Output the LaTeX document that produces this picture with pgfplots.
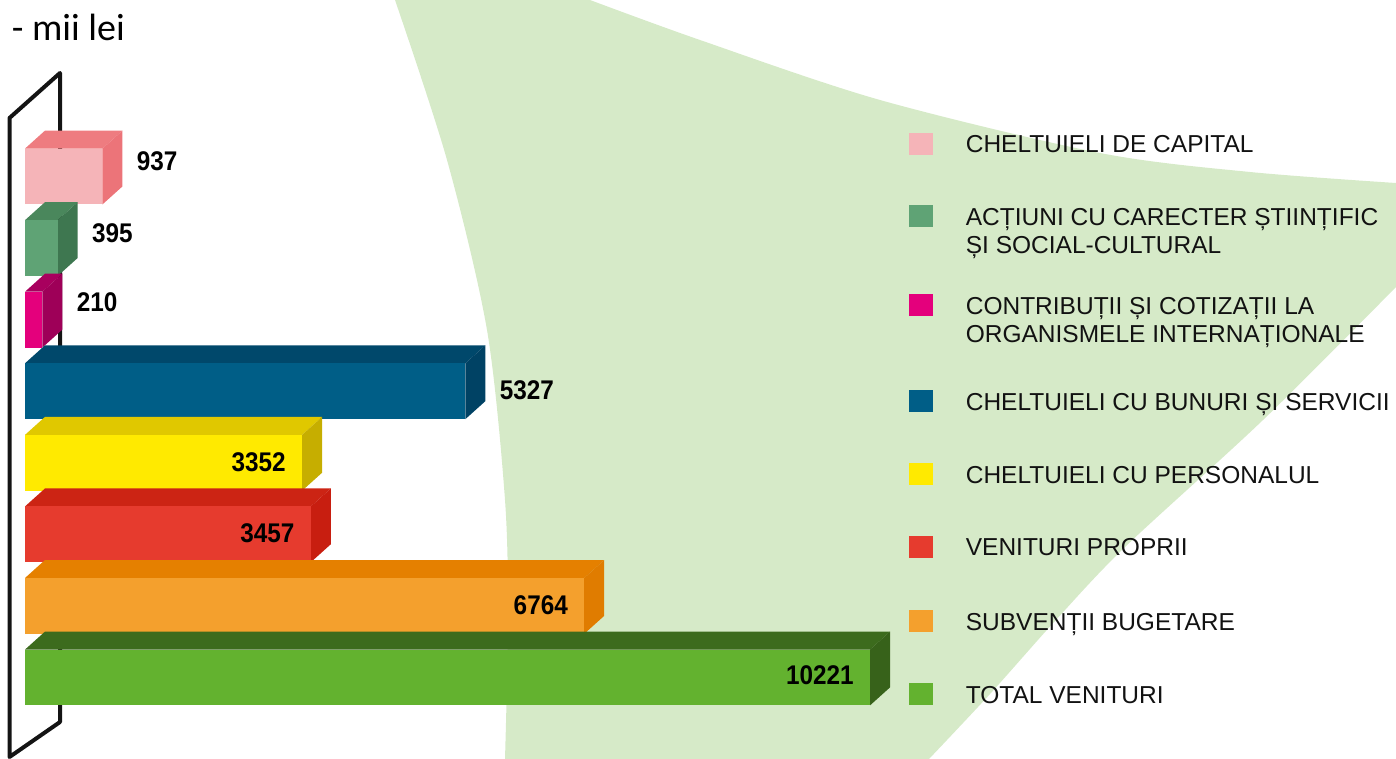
\documentclass[border=0pt]{standalone}
\usepackage{fontspec}
\setmainfont{Liberation Sans}
\newfontfamily\numfont{Liberation Sans}[FakeStretch=0.9]
\newfontfamily\carlito{Carlito}
\usepackage{pgfplots}
\pgfplotsset{compat=1.18}

\definecolor{bggreen}{RGB}{214,234,200}
% front / top / side colours
\definecolor{capF}{HTML}{F5B4B8}\definecolor{capT}{HTML}{EE7C80}\definecolor{capS}{HTML}{EC7479}
\definecolor{actF}{HTML}{5FA375}\definecolor{actT}{HTML}{4A875C}\definecolor{actS}{HTML}{3E7750}
\definecolor{conF}{HTML}{E4007C}\definecolor{conT}{HTML}{A8005E}\definecolor{conS}{HTML}{9E0058}
\definecolor{bunF}{HTML}{005E87}\definecolor{bunT}{HTML}{00486B}\definecolor{bunS}{HTML}{004264}
\definecolor{perF}{HTML}{FFEA00}\definecolor{perT}{HTML}{E0C800}\definecolor{perS}{HTML}{C6AE00}
\definecolor{venF}{HTML}{E63B2E}\definecolor{venT}{HTML}{CC2414}\definecolor{venS}{HTML}{C81E10}
\definecolor{subF}{HTML}{F4A02D}\definecolor{subT}{HTML}{E58000}\definecolor{subS}{HTML}{E07C00}
\definecolor{totF}{HTML}{63B22F}\definecolor{totT}{HTML}{3C6B1D}\definecolor{totS}{HTML}{37621A}

\pgfplotsset{
  fb/.style={xbar, bar width=0.78, bar shift=0pt, draw=none, fill=#1, forget plot,
    point meta=x, nodes near coords},
  face/.style={fill=#1, draw=none, forget plot},
  outlbl/.style={nodes near coords style={anchor=west, xshift=17pt, yshift=#1, inner sep=0pt,
    font=\numfont\bfseries\fontsize{13.5}{15}\selectfont}},
  inlbl/.style={nodes near coords style={anchor=east, xshift=-8pt, yshift=#1, inner sep=0pt,
    font=\numfont\bfseries\fontsize{13.5}{15}\selectfont}},
  legsq/.style 2 args={legend image code/.code={%
    \fill[#1] (0pt,-0.5pt) rectangle (11.5pt,10pt);
    \path (0pt,-#2) (28pt,10pt);}},
}
\newcommand\LE[1]{\smash{\begin{tabular}[t]{@{}l@{}}#1\end{tabular}}}

\begin{document}
\begin{tikzpicture}
% ---------- background decoration (pixel coordinates) ----------
\begin{axis}[at={(0,0)}, anchor=south west, scale only axis,
  width=698pt, height=379.5pt,
  xmin=0, xmax=1396, ymin=0, ymax=759, y dir=reverse, hide axis, clip=false]
\fill[bggreen] plot[smooth] coordinates {(590,0) (700,40) (880,100) (1100,153) (1250,172) (1396,183)}
  -- plot[smooth] coordinates {(1396,287) (1263,420) (1125,547) (1055,621) (990,694) (929,759)}
  -- (505,759)
  -- plot[smooth] coordinates {(505,759) (508,620) (505,500) (487,330) (447,160) (395,0)} -- cycle;
\draw[line width=2pt, line join=round, black!92] (9.5,118) -- (60,73) -- (60,722) -- (9.5,757) -- cycle;
\node[anchor=base west, inner sep=0pt, font=\carlito\fontsize{19}{21}\selectfont] at (11.5,40.7) {- mii lei};
\end{axis}

% ---------- data axis ----------
\begin{axis}[at={(0,0)}, anchor=south west, scale only axis,
  width=698pt, height=379.5pt,
  xmin=-302.4, xmax=16583.6, ymin=-1.1387, ymax=9.4663, hide axis, clip=false,
  /pgf/number format/assume math mode=true,
  /pgf/number format/1000 sep={},
  legend style={at={(0.65115,0.82530)}, anchor=north west, draw=none, fill=none,
    inner sep=0pt, outer sep=0pt, row sep=0pt, column sep=0pt,
    nodes={inner sep=0pt, outer sep=0pt}, cells={anchor=base west},
    font=\fontsize{12.25}{14}\selectfont, text=black!93},
]
% bar 7 : 937
\addplot[face=capT] coordinates {(0,7.39) (242,7.6415) (1179,7.6415) (937,7.39)};
\addplot[face=capS] coordinates {(937,7.39) (1179,7.6415) (1179,6.8615) (937,6.61)};
\addplot[fb=capF, outlbl=7.75pt] coordinates {(937,7)};
% bar 6 : 395
\addplot[face=actT] coordinates {(0,6.39) (242,6.6415) (637,6.6415) (395,6.39)};
\addplot[face=actS] coordinates {(395,6.39) (637,6.6415) (637,5.8615) (395,5.61)};
\addplot[fb=actF, outlbl=7.5pt] coordinates {(395,6)};
% bar 5 : 210
\addplot[face=conT] coordinates {(0,5.39) (242,5.6415) (452,5.6415) (210,5.39)};
\addplot[face=conS] coordinates {(210,5.39) (452,5.6415) (452,4.8615) (210,4.61)};
\addplot[fb=conF, outlbl=8.5pt] coordinates {(210,5)};
% bar 4 : 5327
\addplot[face=bunT] coordinates {(0,4.39) (242,4.6415) (5569,4.6415) (5327,4.39)};
\addplot[face=bunS] coordinates {(5327,4.39) (5569,4.6415) (5569,3.8615) (5327,3.61)};
\addplot[fb=bunF, outlbl=0.5pt] coordinates {(5327,4)};
% bar 3 : 3352
\addplot[face=perT] coordinates {(0,3.39) (242,3.6415) (3594,3.6415) (3352,3.39)};
\addplot[face=perS] coordinates {(3352,3.39) (3594,3.6415) (3594,2.8615) (3352,2.61)};
\addplot[fb=perF, inlbl=0.5pt] coordinates {(3352,3)};
% bar 2 : 3457
\addplot[face=venT] coordinates {(0,2.39) (242,2.6415) (3699,2.6415) (3457,2.39)};
\addplot[face=venS] coordinates {(3457,2.39) (3699,2.6415) (3699,1.8615) (3457,1.61)};
\addplot[fb=venF, inlbl=0.5pt] coordinates {(3457,2)};
% bar 1 : 6764
\addplot[face=subT] coordinates {(0,1.39) (242,1.6415) (7006,1.6415) (6764,1.39)};
\addplot[face=subS] coordinates {(6764,1.39) (7006,1.6415) (7006,0.8615) (6764,0.61)};
\addplot[fb=subF, inlbl=0.5pt] coordinates {(6764,1)};
% bar 0 : 10221
\addplot[face=totT] coordinates {(0,0.39) (242,0.6415) (10463,0.6415) (10221,0.39)};
\addplot[face=totS] coordinates {(10221,0.39) (10463,0.6415) (10463,-0.1385) (10221,-0.39)};
\addplot[fb=totF, inlbl=1.25pt] coordinates {(10221,0)};

% legend
\addlegendimage{legsq={capF}{26pt}}
\addlegendentry{\LE{CHELTUIELI DE CAPITAL}}
\addlegendimage{legsq={actF}{34pt}}
\addlegendentry{\LE{ACȚIUNI CU CARECTER ȘTIINȚIFIC\\ȘI SOCIAL-CULTURAL}}
\addlegendimage{legsq={conF}{37.5pt}}
\addlegendentry{\LE{CONTRIBUȚII ȘI COTIZAȚII LA\\ORGANISMELE INTERNAȚIONALE}}
\addlegendimage{legsq={bunF}{26pt}}
\addlegendentry{\LE{CHELTUIELI CU BUNURI ȘI SERVICII}}
\addlegendimage{legsq={perF}{26pt}}
\addlegendentry{\LE{CHELTUIELI CU PERSONALUL}}
\addlegendimage{legsq={venF}{27pt}}
\addlegendentry{\LE{VENITURI PROPRII}}
\addlegendimage{legsq={subF}{26pt}}
\addlegendentry{\LE{SUBVENȚII BUGETARE}}
\addlegendimage{legsq={totF}{1pt}}
\addlegendentry{\LE{TOTAL VENITURI}}
\end{axis}
\pgfresetboundingbox
\path[use as bounding box] (0,0) rectangle (698pt,379.5pt);
\end{tikzpicture}
\end{document}
